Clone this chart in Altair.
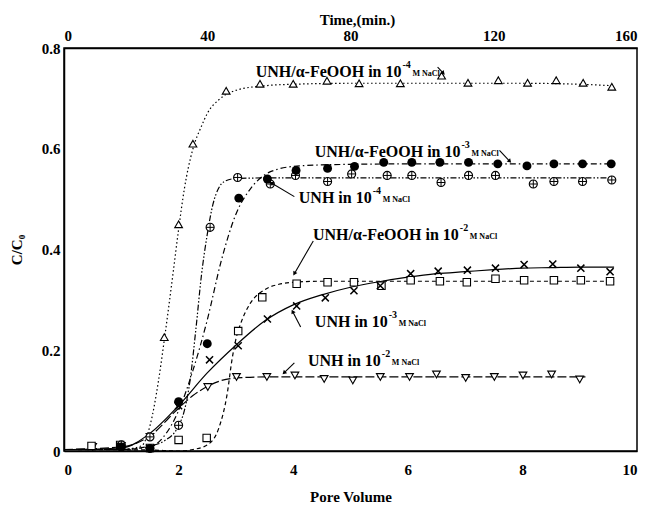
import math
import altair as alt
import pandas as pd

# ---------------- values ----------------
# UNH/alpha-FeOOH in 1e-4 M NaCl : open up-triangles, dotted fit
fe4_x = [1.75, 2.0, 2.25, 2.83, 3.42, 4.0, 4.59, 5.15, 5.87, 6.59, 7.05, 7.58, 8.09, 8.59, 9.06, 9.56]
fe4_y = [0.226, 0.45, 0.61, 0.715, 0.729, 0.729, 0.735, 0.73, 0.73, 0.745, 0.731, 0.736, 0.731, 0.736, 0.731, 0.723]
fe4_cx = [0.0, 1.0, 1.35, 1.5, 1.65, 1.75, 1.9, 2.0, 2.1, 2.25, 2.4, 2.5, 2.7, 3.0, 3.5, 4.0, 5.0, 6.0, 7.0, 8.0, 9.0, 9.6]
fe4_cy = [0.003, 0.003, 0.01, 0.05, 0.14, 0.22, 0.35, 0.44, 0.52, 0.6, 0.645, 0.67, 0.697, 0.716, 0.725, 0.728, 0.73, 0.73, 0.73, 0.73, 0.728, 0.725]

# UNH/alpha-FeOOH in 1e-3 M NaCl : filled circles, dash-dot fit
fe3_x = [1.0, 1.5, 2.0, 2.5, 3.05, 3.55, 4.05, 4.6, 5.07, 5.58, 6.07, 6.56, 7.06, 7.57, 8.08, 8.55, 9.05, 9.55]
fe3_y = [0.008, 0.005, 0.098, 0.213, 0.502, 0.54, 0.557, 0.561, 0.565, 0.573, 0.573, 0.573, 0.573, 0.57, 0.566, 0.57, 0.57, 0.57]
fe3_cx = [0.0, 1.0, 1.5, 1.75, 2.0, 2.25, 2.5, 2.75, 3.0, 3.25, 3.5, 3.75, 4.0, 4.5, 5.0, 6.0, 7.0, 8.0, 9.0, 9.6]
fe3_cy = [0.003, 0.003, 0.008, 0.03, 0.08, 0.16, 0.26, 0.38, 0.47, 0.52, 0.548, 0.56, 0.565, 0.568, 0.569, 0.57, 0.57, 0.57, 0.57, 0.57]

# UNH in 1e-4 M NaCl : circle with cross, dash-dot-dot fit
un4_x = [1.0, 1.5, 2.0, 2.55, 3.03, 3.6, 4.04, 4.6, 5.02, 5.64, 6.07, 6.58, 7.06, 7.53, 8.19, 8.55, 9.05, 9.56]
un4_y = [0.012, 0.028, 0.051, 0.444, 0.543, 0.53, 0.547, 0.535, 0.55, 0.547, 0.547, 0.533, 0.547, 0.547, 0.53, 0.535, 0.535, 0.538]
un4_cx = [0.0, 1.0, 1.5, 1.75, 2.0, 2.1, 2.2, 2.3, 2.4, 2.5, 2.6, 2.7, 2.8, 3.0, 3.5, 4.0, 5.0, 6.0, 7.0, 8.0, 9.0, 9.6]
un4_cy = [0.003, 0.003, 0.01, 0.02, 0.05, 0.08, 0.14, 0.24, 0.35, 0.43, 0.49, 0.522, 0.535, 0.541, 0.542, 0.542, 0.542, 0.542, 0.542, 0.542, 0.542, 0.542]

# UNH/alpha-FeOOH in 1e-2 M NaCl : open squares, dashed fit
fe2_x = [0.48, 0.98, 1.5, 2.0, 2.49, 3.04, 3.46, 4.06, 4.6, 5.06, 5.54, 6.05, 6.56, 7.03, 7.53, 8.03, 8.55, 9.02, 9.53]
fe2_y = [0.01, 0.012, 0.006, 0.022, 0.026, 0.238, 0.305, 0.332, 0.335, 0.335, 0.328, 0.339, 0.337, 0.335, 0.342, 0.339, 0.339, 0.339, 0.337]
fe2_cx = [0.0, 1.5, 2.0, 2.25, 2.5, 2.7, 2.85, 2.93, 3.0, 3.1, 3.25, 3.5, 3.75, 4.0, 4.5, 5.0, 6.0, 7.0, 8.0, 9.0, 9.6]
fe2_cy = [0.003, 0.002, 0.0, 0.003, 0.012, 0.045, 0.115, 0.18, 0.222, 0.258, 0.293, 0.32, 0.331, 0.335, 0.337, 0.337, 0.337, 0.337, 0.337, 0.337, 0.337]

# UNH in 1e-3 M NaCl : crosses, solid fit
un3_x = [1.0, 1.5, 2.0, 2.54, 3.04, 3.55, 4.06, 4.56, 5.06, 5.52, 6.05, 6.53, 7.04, 7.53, 8.03, 8.53, 9.02, 9.53]
un3_y = [0.01, 0.005, 0.09, 0.181, 0.209, 0.262, 0.288, 0.304, 0.318, 0.328, 0.352, 0.357, 0.359, 0.363, 0.37, 0.371, 0.363, 0.356]
un3_cx = [0.0, 1.0, 1.5, 2.0, 2.5, 3.0, 3.5, 4.0, 4.5, 5.0, 5.5, 6.0, 6.5, 7.0, 7.5, 8.0, 8.5, 9.0, 9.6]
un3_cy = [0.003, 0.006, 0.035, 0.09, 0.155, 0.21, 0.258, 0.29, 0.31, 0.325, 0.336, 0.345, 0.352, 0.356, 0.36, 0.363, 0.364, 0.365, 0.365]

# UNH in 1e-2 M NaCl : open down-triangles, long-dash fit
un2_x = [0.5, 1.0, 1.5, 2.0, 2.51, 3.01, 3.54, 4.03, 4.54, 5.04, 5.52, 6.03, 6.5, 7.01, 7.51, 8.01, 8.51, 9.0]
un2_y = [0.008, 0.01, 0.028, 0.09, 0.127, 0.147, 0.147, 0.15, 0.143, 0.14, 0.147, 0.147, 0.152, 0.145, 0.147, 0.15, 0.152, 0.142]
un2_cx = [0.0, 1.0, 1.5, 2.0, 2.25, 2.5, 2.75, 3.0, 3.5, 4.0, 5.0, 6.0, 7.0, 8.0, 9.1]
un2_cy = [0.003, 0.008, 0.03, 0.085, 0.11, 0.128, 0.14, 0.145, 0.147, 0.147, 0.147, 0.147, 0.147, 0.147, 0.147]

# annotations (anchor = end of the "10" before the exponent)
lab_main = ["UNH/\u03b1-FeOOH in 10", "UNH/\u03b1-FeOOH in 10", "UNH in 10",
            "UNH/\u03b1-FeOOH in 10", "UNH in 10", "UNH in 10"]
lab_sup = ["-4", "-3", "-4", "-2", "-3", "-2"]
lab_suf = ["M NaCl"] * 6
lab_x = [5.89, 6.92, 5.37, 6.89, 5.65, 5.53]
lab_y = [0.753, 0.593, 0.502, 0.429, 0.256, 0.178]

arr_x0 = [6.52, 7.6, 4.02, 4.35, 4.13, 4.02]
arr_y0 = [0.762, 0.597, 0.505, 0.417, 0.246, 0.175]
arr_x1 = [6.62, 7.78, 3.62, 4.02, 3.99, 3.84]
arr_y1 = [0.75, 0.575, 0.532, 0.352, 0.277, 0.155]

pv_ticks = [0, 2, 4, 6, 8, 10]
c_ticks = [0, 0.2, 0.4, 0.6, 0.8]
time_ticks = [0, 40, 80, 120, 160]

# ---------------- chart ----------------
W, H = 573, 403
FONT = "Liberation Serif"

X = alt.X("x:Q", scale=alt.Scale(domain=[0, 10], nice=False, zero=False),
          axis=alt.Axis(values=pv_ticks, format="d", title="Pore Volume",
                        labelPadding=11, titlePadding=12))
Y = alt.Y("y:Q", scale=alt.Scale(domain=[0, 0.8], nice=False),
          axis=alt.Axis(values=c_ticks, title="C/C\u2080",
                        labelExpr="datum.value == 0 ? '0' : format(datum.value, '.1f')",
                        labelPadding=4, titlePadding=17))


def pts(xs, ys):
    return pd.DataFrame({"x": xs, "y": ys})


layers = []
# fitted curves
curves = [
    (fe4_cx, fe4_cy, [1.5, 2.5]),
    (fe3_cx, fe3_cy, [6, 3, 1.5, 3]),
    (un4_cx, un4_cy, [6, 2, 1.5, 2, 1.5, 2]),
    (fe2_cx, fe2_cy, [4, 3]),
    (un3_cx, un3_cy, None),
    (un2_cx, un2_cy, [9, 3]),
]
for cx, cy, dash in curves:
    kw = dict(color="black", strokeWidth=1.2, interpolate="monotone")
    if dash:
        kw["strokeDash"] = dash
    layers.append(alt.Chart(pts(cx, cy)).mark_line(**kw).encode(x=X, y=Y))

# markers
open_kw = dict(filled=True, fill="white", stroke="black", strokeWidth=1.1, opacity=1)
layers.append(alt.Chart(pts(fe4_x, fe4_y)).mark_point(shape="triangle-up", size=60, **open_kw).encode(x=X, y=Y))
layers.append(alt.Chart(pts(un2_x, un2_y)).mark_point(shape="triangle-down", size=60, **open_kw).encode(x=X, y=Y))
layers.append(alt.Chart(pts(fe2_x, fe2_y)).mark_point(shape="square", size=55, **open_kw).encode(x=X, y=Y))
layers.append(alt.Chart(pts(un4_x, un4_y)).mark_point(shape="circle", size=65, **open_kw).encode(x=X, y=Y))
layers.append(alt.Chart(pts(un4_x, un4_y)).mark_point(shape="M-1,0L1,0M0,-1L0,1", size=65, filled=False,
                                                      stroke="black", strokeWidth=1, opacity=1).encode(x=X, y=Y))
layers.append(alt.Chart(pts(un3_x, un3_y)).mark_point(shape="M-1,-1L1,1M-1,1L1,-1", size=50, filled=False,
                                                      stroke="black", strokeWidth=1.5, opacity=1).encode(x=X, y=Y))
layers.append(alt.Chart(pts(fe3_x, fe3_y)).mark_point(shape="circle", size=80, filled=True, fill="black",
                                                      opacity=1).encode(x=X, y=Y))

# annotation text
labels = pd.DataFrame({"x": lab_x, "y": lab_y, "main": lab_main, "sup": lab_sup, "suf": lab_suf})
layers.append(alt.Chart(labels).mark_text(align="right", baseline="middle", font=FONT, fontWeight="bold",
                                          fontSize=16, color="black").encode(x=X, y=Y, text="main:N"))
layers.append(alt.Chart(labels).mark_text(align="left", baseline="middle", font=FONT, fontWeight="bold",
                                          fontSize=10, dx=1, dy=-7, color="black").encode(x=X, y=Y, text="sup:N"))
layers.append(alt.Chart(labels).mark_text(align="left", baseline="middle", font=FONT, fontWeight="bold",
                                          fontSize=8, dx=11, dy=2, color="black").encode(x=X, y=Y, text="suf:N"))

# arrows
ang = []
for a, b, c, d in zip(arr_x0, arr_y0, arr_x1, arr_y1):
    dxp = (c - a) * W / 10.0
    dyp = -(d - b) * H / 0.8
    ang.append(math.degrees(math.atan2(dxp, -dyp)) % 360)
arrows = pd.DataFrame({"x": arr_x0, "y": arr_y0, "x2": arr_x1, "y2": arr_y1})
heads = pd.DataFrame({"x": arr_x1, "y": arr_y1, "ang": ang})
layers.append(alt.Chart(arrows).mark_rule(color="black", strokeWidth=1.1).encode(
    x=X, y=Y, x2="x2:Q", y2="y2:Q"))
layers.append(alt.Chart(heads).mark_point(shape="triangle-up", filled=True, fill="black", size=22,
                                          opacity=1).encode(x=X, y=Y, angle=alt.Angle("ang:Q", scale=None)))

main = alt.layer(*layers)

top = alt.Chart(pd.DataFrame({"t": time_ticks})).mark_point(opacity=0).encode(
    x=alt.X("t:Q", scale=alt.Scale(domain=[0, 160], nice=False),
            axis=alt.Axis(orient="top", values=time_ticks, format="d", title="Time,(min.)",
                          labelPadding=5, titlePadding=1, titleX=293))
)

chart = alt.layer(main, top).resolve_scale(x="independent").properties(
    width=W, height=H, autosize="none", background="white",
    padding={"left": 64, "top": 48, "right": 16, "bottom": 57},
).configure_view(stroke="black", strokeWidth=1.5).configure_axis(
    grid=False, ticks=False, tickSize=0, domainColor="black", domainWidth=1.5,
    labelFont=FONT, labelFontWeight="bold", labelFontSize=15, labelColor="black",
    titleFont=FONT, titleFontWeight="bold", titleFontSize=15, titleColor="black",
)

chart.save("out.html", embed_options={"renderer": "svg", "actions": False})
